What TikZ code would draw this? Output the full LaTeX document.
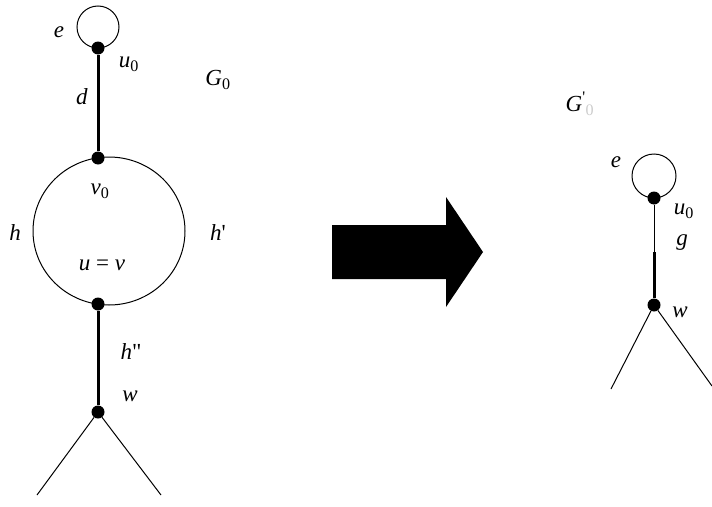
\documentclass[tikz,border=0pt]{standalone}
\usepackage{fontspec}
\setmainfont{Liberation Serif}
\usepackage{tikz}
\usetikzlibrary{positioning}
\newcommand{\lab}[2]{\textit{#1}\textsubscript{#2}}

\begin{document}
\begin{tikzpicture}[x=1pt,y=-1pt,font=\fontsize{23}{26}\selectfont,
  vtx/.style={circle,fill=black,inner sep=0pt,minimum size=13pt},
  lbl/.style={inner sep=1pt},
  thin edge/.style={draw,line width=1pt},
  fat edge/.style={draw,line width=3pt}]
\useasboundingbox (0,0) rectangle (712,506);
% left graph G_0
\node[vtx] (u0) at (98,48) {};
\node[vtx] (v0) at (98,158) {};
\node[vtx] (uv) at (98,304) {};
\node[vtx] (w) at (98,412) {};
\coordinate (ring) at (109,231);
\coordinate (wl) at (37,495);
\coordinate (wr) at (161,495);
\draw[thin edge] ([yshift=21pt]u0.center) circle[radius=21pt];
\draw[thin edge] (ring) ellipse[x radius=76pt,y radius=74pt];
\draw[fat edge] (u0) -- (v0);
\draw[fat edge] (uv) -- (w);
\draw[thin edge] (w) -- (wl);
\draw[thin edge] (w) -- (wr);
\node[lbl] (le) at (59,32) {\textit{e}};
\node[lbl] (lu0) at (129,64) {\lab{u}{0}};
\node[lbl] (ld) at (82,97) {\textit{d}};
\node[lbl] (lG) at (218,80) {\lab{G}{0}};
\node[lbl] (lv0) at (100,191) {\lab{v}{0}};
\node[lbl] (lh) at (15,233) {\textit{h}};
\node[lbl] (lh1) at (218,233) {\textit{h}\textquotesingle};
\node[lbl] (luv) at (102,265) {\textit{u} = \textit{v}};
\node[lbl] (lh2) at (131,352) {\textit{h}\textquotedbl};
\node[lbl] (lw) at (130,396) {\textit{w}};
% the big arrow
\fill (332,225) -- (446,225) -- (446,197) -- (483,252) -- (446,307)
  -- (446,279) -- (332,279) -- cycle;
% right graph G'
\node[vtx] (ru0) at (654,198) {};
\node[vtx] (rw) at (654,305) {};
\coordinate (rmid) at (654,252);
\coordinate (rwl) at (611,389);
\coordinate (rwr) at (712,386);
\draw[thin edge] ([yshift=22pt]ru0.center) circle[radius=22pt];
\draw[thin edge] (ru0) -- (rmid);
\draw[fat edge] (rmid) -- (rw);
\draw[thin edge] (rw) -- (rwl);
\draw[thin edge] (rw) -- (rwr);
\node[lbl] (rle) at (616,162) {\textit{e}};
\node[lbl] (rlu0) at (684,211) {\lab{u}{0}};
\node[lbl] (rlg) at (682,243) {\textit{g}};
\node[lbl] (rlw) at (680,312) {\textit{w}};
\node[lbl] (rlG) at (580,104) {\textit{G}\textsuperscript{\textquotesingle}\textsubscript{\textcolor{black!20}{0}}};
\end{tikzpicture}
\end{document}
